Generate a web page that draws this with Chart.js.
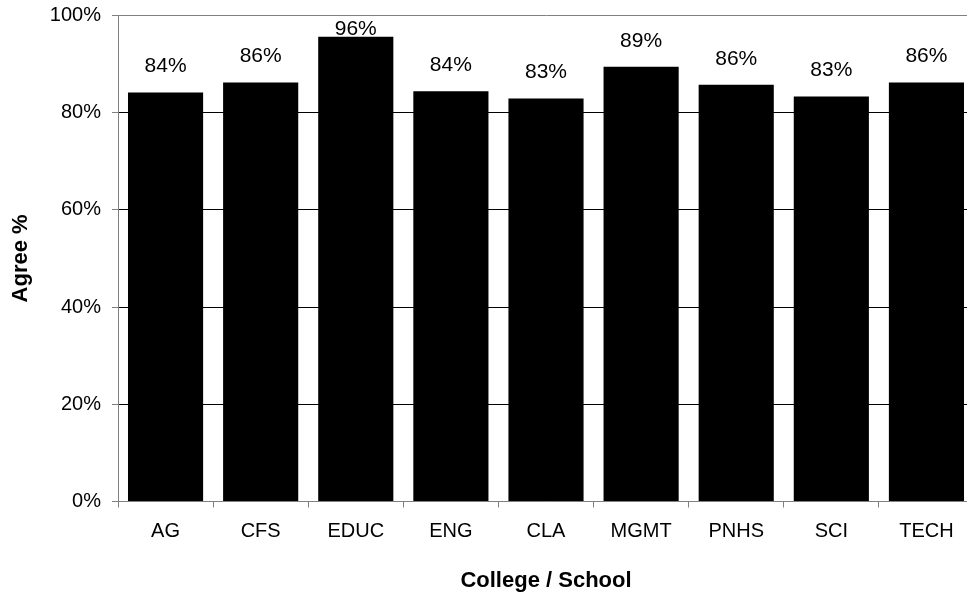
<!DOCTYPE html>
<html>
<head>
<meta charset="utf-8">
<title>Agree % by College / School</title>
<script src="https://cdn.jsdelivr.net/npm/chart.js@4/dist/chart.umd.min.js"></script>
<style>
  html, body { margin: 0; padding: 0; background: #ffffff; overflow: hidden; }
  #wrap { width: 967px; height: 594px; position: relative; overflow: hidden; }
  #chart { position: absolute; left: 0; top: 0; }
</style>
</head>
<body>
<div id="wrap"><canvas id="chart" width="975" height="594"></canvas></div>
<script>
// Share of respondents who agree, per college / school
const colleges = ['AG', 'CFS', 'EDUC', 'ENG', 'CLA', 'MGMT', 'PNHS', 'SCI', 'TECH'];
const agreePct = [84.1, 86.2, 95.6, 84.4, 82.9, 89.4, 85.7, 83.3, 86.2];
const yTicks = [0, 20, 40, 60, 80, 100];

const FONT = '"Liberation Sans", Arial, Helvetica, sans-serif';
const AXIS_GREY = '#808080';

// Value labels above each bar, kept inside the plot area
const barValueLabels = {
  id: 'barValueLabels',
  afterDatasetsDraw(chart) {
    const { ctx, chartArea } = chart;
    const meta = chart.getDatasetMeta(0);
    ctx.save();
    ctx.font = '21px ' + FONT;
    ctx.fillStyle = '#000';
    ctx.textAlign = 'center';
    ctx.textBaseline = 'middle';
    meta.data.forEach((bar, i) => {
      const v = chart.data.datasets[0].data[i];
      const y = Math.max(bar.y - 26, chartArea.top + 14);
      ctx.fillText(Math.round(v) + '%', bar.x, y);
    });
    ctx.restore();
  }
};

new Chart(document.getElementById('chart'), {
  type: 'bar',
  data: {
    labels: colleges,
    datasets: [{
      data: agreePct,
      backgroundColor: '#000',
      borderWidth: 0,
      barPercentage: 0.79,
      categoryPercentage: 1.0
    }]
  },
  options: {
    responsive: false,
    animation: false,
    devicePixelRatio: 1,
    layout: { padding: { top: 15.3, right: 1, left: 0, bottom: 0 } },
    plugins: {
      legend: { display: false },
      tooltip: { enabled: false }
    },
    scales: {
      x: {
        offset: true,
        afterFit(scale) { scale.height = 92.5; scale.paddingLeft = 0; scale.paddingRight = 0; },
        grid: {
          offset: true,
          drawOnChartArea: false,
          drawTicks: true,
          tickLength: 6,
          tickColor: AXIS_GREY
        },
        border: { display: true, color: AXIS_GREY },
        ticks: {
          color: '#000',
          font: { family: FONT, size: 20 },
          padding: 12,
          maxRotation: 0,
          autoSkip: false
        },
        title: {
          display: true,
          text: 'College / School',
          color: '#000',
          font: { family: FONT, size: 22, weight: 'bold' },
          padding: { top: 0, bottom: 0 }
        }
      },
      y: {
        min: 0,
        max: 100,
        afterFit(scale) { scale.width = 118; scale.paddingTop = 0; scale.paddingBottom = 0; },
        afterBuildTicks(scale) { scale.ticks = yTicks.map(v => ({ value: v })); },
        grid: {
          color: c => (c.tick && (c.tick.value === 100 || c.tick.value === 0)) ? AXIS_GREY : '#000',
          lineWidth: 1,
          drawTicks: true,
          tickLength: 6,
          tickColor: AXIS_GREY
        },
        border: { display: true, color: AXIS_GREY },
        ticks: {
          color: '#000',
          font: { family: FONT, size: 20 },
          padding: 11,
          callback: v => v + '%'
        },
        title: {
          display: true,
          text: 'Agree %',
          color: '#000',
          font: { family: FONT, size: 22, weight: 'bold' },
          padding: { top: 8, bottom: 0 }
        }
      }
    }
  },
  plugins: [barValueLabels]
});
</script>
</body>
</html>
